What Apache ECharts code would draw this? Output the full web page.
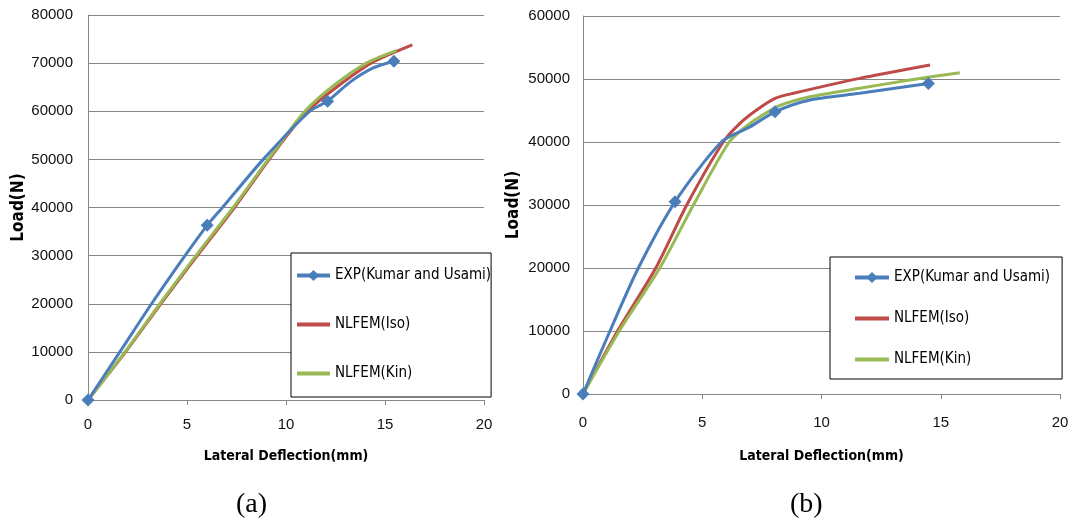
<!DOCTYPE html>
<html><head><meta charset="utf-8">
<script src="https://cdn.jsdelivr.net/npm/echarts@6/dist/echarts.min.js"></script>
<style>html,body{margin:0;padding:0;background:#fff}#c{width:1075px;height:527px}</style>
</head><body><div id="c"></div>
<script>
// ---- data ----
const seriesNames = ['EXP(Kumar and Usami)', 'NLFEM(Iso)', 'NLFEM(Kin)'];
const captions = ['(a)', '(b)'];
const xName = 'Lateral Deflection(mm)';
const yName = 'Load(N)';

// chart (a)
const expA = [[0,0],[1.61,10000],[3.21,20000],[4.9,30000],[6.02,36300],[6.79,40000],[8.85,50000],[11.2,60000],[12.1,62100],[13.25,66100],[14.4,69000],[15.45,70400]];
const expAMarkers = [0,4,8,11];
const isoA = [[0,0],[1.9,10000],[3.68,20000],[5.52,30000],[7.4,40000],[9.15,50000],[10.06,55000],[11.07,60000],[12.55,65000],[14.3,70000],[16.38,73770]];
const kinA = [[0,0],[1.87,10000],[3.63,20000],[5.45,30000],[7.33,40000],[9.1,50000],[10.0,55000],[10.95,60000],[12.3,65000],[14.06,70000],[15.57,72600]];

// chart (b)
const expB = [[0,0],[1.13,10000],[2.32,20000],[3.86,30500],[5.8,40000],[7.0,42400],[8.05,44800],[9.52,46670],[11.6,47730],[14.48,49300]];
const expBMarkers = [0,3,6,9];
const isoB = [[0,0],[1.45,10000],[3.05,20000],[4.35,30000],[5.88,40000],[6.58,42960],[7.28,45080],[8.05,46930],[8.82,47730],[11.6,50100],[14.55,52220]];
const kinB = [[0,0],[1.52,10000],[3.22,20000],[4.63,30000],[6.13,40000],[7.0,42960],[7.42,44020],[8.26,45800],[9.52,47190],[11.6,48520],[13.7,49840],[15.8,51000]];

const xRange = {min: 0, max: 20, interval: 5};
const yRangeA = {min: 0, max: 80000, interval: 10000};
const yRangeB = {min: 0, max: 60000, interval: 10000};

// ---- styles ----
const colors = ['#4A7EBB', '#BE4B48', '#98B954'];
const gray = '#868686';
const tickFont = "'Liberation Sans', Arial, sans-serif";
const narrowFont = "'DejaVu Sans Condensed', 'DejaVu Sans', sans-serif";

function xAxis(gi, labelMargin, nameGap) {
  return {
    gridIndex: gi, type: 'value', min: xRange.min, max: xRange.max, interval: xRange.interval,
    axisLine: {show: true, lineStyle: {color: gray, width: 1}},
    axisTick: {show: true, length: 5, lineStyle: {color: gray}},
    splitLine: {show: false},
    axisLabel: {fontSize: 15, color: '#111', margin: labelMargin, fontFamily: tickFont, formatter: v => String(v)},
    name: xName, nameLocation: 'middle', nameGap: nameGap,
    nameTextStyle: {fontWeight: 'bold', fontSize: 14, color: '#000', fontFamily: narrowFont}
  };
}
function yAxis(gi, r, labelMargin, nameGap) {
  return {
    gridIndex: gi, type: 'value', min: r.min, max: r.max, interval: r.interval,
    axisLine: {show: true, lineStyle: {color: gray, width: 1}},
    axisTick: {show: false},
    splitLine: {show: true, lineStyle: {color: gray, width: 1}},
    axisLabel: {fontSize: 15, color: '#111', margin: labelMargin, fontFamily: tickFont, formatter: v => String(v)},
    name: yName, nameLocation: 'middle', nameGap: nameGap,
    nameTextStyle: {fontWeight: 'bold', fontSize: 17, color: '#000', fontFamily: narrowFont}
  };
}
function expSeries(data, markers, gi) {
  return {
    name: seriesNames[0], type: 'line', xAxisIndex: gi, yAxisIndex: gi, data: data,
    smooth: 0.25, clip: false, symbol: 'diamond', showSymbol: true, showAllSymbol: true,
    symbolSize: (v, p) => markers.includes(p.dataIndex) ? 13 : 0,
    lineStyle: {width: 3, color: colors[0]}, itemStyle: {color: colors[0]}, z: 3
  };
}
function plainSeries(idx, data, gi) {
  return {
    name: seriesNames[idx], type: 'line', xAxisIndex: gi, yAxisIndex: gi, data: data,
    smooth: 0.25, clip: false, symbol: 'none', showSymbol: false,
    lineStyle: {width: 3, color: colors[idx]}, itemStyle: {color: colors[idx]}, z: 2
  };
}
const hidden = {color: 'rgba(0,0,0,0)', borderColor: 'rgba(0,0,0,0)', borderWidth: 0};
const legendData = [
  {name: seriesNames[0]},
  {name: seriesNames[1], itemStyle: hidden},
  {name: seriesNames[2], itemStyle: hidden}
];
const legendCommon = {
  data: legendData, orient: 'vertical', itemHeight: 14, borderColor: '#000', borderWidth: 1,
  backgroundColor: '#fff', selectedMode: false, lineStyle: {width: 4},
  textStyle: {fontSize: 15, color: '#000', fontFamily: narrowFont}
};

const chart = echarts.init(document.getElementById('c'), null, {renderer: 'canvas'});
chart.setOption({
  animation: false,
  backgroundColor: '#fff',
  grid: [
    {left: 88, top: 15, width: 396, height: 385},
    {left: 583, top: 16, width: 477, height: 378}
  ],
  xAxis: [xAxis(0, 17, 49), xAxis(1, 21, 55)],
  yAxis: [yAxis(0, yRangeA, 15, 60), yAxis(1, yRangeB, 13, 61)],
  legend: [
    Object.assign({}, legendCommon, {left: 291, top: 253, itemWidth: 33, itemGap: 34, padding: [15, 0, 16, 4]}),
    Object.assign({}, legendCommon, {left: 830, top: 257, itemWidth: 34, itemGap: 26, padding: [13, 12, 12, 23]})
  ],
  graphic: [
    {type: 'text', left: 236, top: 491, style: {text: captions[0], font: "28px 'Liberation Serif', serif", fill: '#000'}},
    {type: 'text', left: 790, top: 491, style: {text: captions[1], font: "28px 'Liberation Serif', serif", fill: '#000'}}
  ],
  series: [
    plainSeries(1, isoA, 0), plainSeries(2, kinA, 0), expSeries(expA, expAMarkers, 0),
    plainSeries(1, isoB, 1), plainSeries(2, kinB, 1), expSeries(expB, expBMarkers, 1)
  ]
});
</script></body></html>
